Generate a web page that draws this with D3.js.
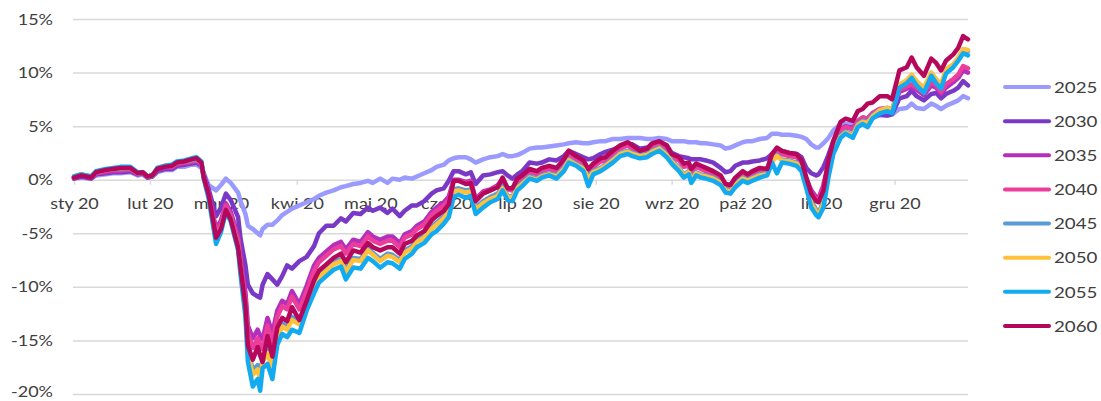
<!DOCTYPE html>
<html>
<head>
<meta charset="utf-8">
<script src="https://cdn.jsdelivr.net/npm/d3@7"></script>
<style>
  body { margin: 0; background: #ffffff; }
  svg { display: block; }
  text { font-family: Lato, "Open Sans", sans-serif; fill: #404040; }
</style>
</head>
<body>
<svg id="chart" width="1101" height="401"></svg>
<script>
// Cumulative return (%) of target-date funds over 2020
const dates = [
  "2020-01-01","2020-01-04","2020-01-08","2020-01-10","2020-01-14","2020-01-17","2020-01-20","2020-01-24","2020-01-27","2020-01-29","2020-01-31",
  "2020-02-02","2020-02-04","2020-02-07","2020-02-10","2020-02-12","2020-02-15","2020-02-18","2020-02-20","2020-02-22","2020-02-23","2020-02-25","2020-02-28",
  "2020-03-01","2020-03-03","2020-03-05","2020-03-08","2020-03-09","2020-03-11","2020-03-12","2020-03-14","2020-03-16","2020-03-17","2020-03-18","2020-03-20","2020-03-22","2020-03-24","2020-03-26","2020-03-28","2020-03-30",
  "2020-04-02","2020-04-05","2020-04-08","2020-04-10","2020-04-13","2020-04-16","2020-04-19","2020-04-21","2020-04-24","2020-04-27","2020-04-30",
  "2020-05-02","2020-05-05","2020-05-08","2020-05-10","2020-05-13","2020-05-15","2020-05-18","2020-05-20","2020-05-23","2020-05-26","2020-05-28","2020-05-31",
  "2020-06-02","2020-06-04","2020-06-06","2020-06-09","2020-06-11","2020-06-13","2020-06-16","2020-06-19","2020-06-22","2020-06-24","2020-06-26","2020-06-28","2020-06-30",
  "2020-07-02","2020-07-05","2020-07-08","2020-07-10","2020-07-13","2020-07-16","2020-07-19","2020-07-21","2020-07-24","2020-07-27","2020-07-29","2020-07-31",
  "2020-08-03","2020-08-05","2020-08-08","2020-08-11","2020-08-14","2020-08-16","2020-08-19","2020-08-22","2020-08-24","2020-08-27","2020-08-30",
  "2020-09-01","2020-09-04","2020-09-06","2020-09-08","2020-09-09","2020-09-11","2020-09-13","2020-09-15","2020-09-18","2020-09-21","2020-09-23","2020-09-25","2020-09-27","2020-09-30",
  "2020-10-02","2020-10-04","2020-10-07","2020-10-10","2020-10-12","2020-10-14","2020-10-16","2020-10-19","2020-10-22","2020-10-24","2020-10-26","2020-10-28","2020-10-30","2020-10-31",
  "2020-11-02","2020-11-04","2020-11-06","2020-11-09","2020-11-11","2020-11-14","2020-11-16","2020-11-18","2020-11-20","2020-11-22","2020-11-25","2020-11-28","2020-11-30",
  "2020-12-03","2020-12-06","2020-12-08","2020-12-10","2020-12-13","2020-12-16","2020-12-18","2020-12-20","2020-12-22","2020-12-25","2020-12-27","2020-12-29","2020-12-31"
];

const s2025 = [
  0.1,0.2,0.1,0.4,0.5,0.6,0.6,0.7,0.4,0.5,0.2,
  0.3,0.7,0.9,0.9,1.2,1.2,1.4,1.4,1.1,0.6,-0.5,-1.0,
  -0.5,0.1,-0.3,-1.2,-2.0,-3.2,-4.3,-4.6,-5.0,-5.2,-4.6,-4.2,-4.2,-3.8,-3.3,-3.0,-2.7,
  -2.4,-2.1,-1.8,-1.5,-1.2,-1.0,-0.7,-0.6,-0.4,-0.3,-0.1,
  -0.3,0.1,-0.3,0.1,0.0,0.2,0.1,0.3,0.6,0.9,1.2,1.4,
  1.8,2.0,2.1,2.1,1.9,1.6,1.9,2.1,2.2,2.4,2.2,2.2,2.3,
  2.5,2.9,3.0,3.0,3.1,3.2,3.3,3.4,3.5,3.4,3.4,3.5,
  3.6,3.6,3.8,3.8,3.9,3.9,3.9,3.8,3.8,3.9,3.8,
  3.6,3.6,3.6,3.5,3.5,3.5,3.4,3.4,3.3,3.2,2.9,3.0,3.2,3.5,
  3.6,3.6,3.8,3.9,4.3,4.3,4.2,4.2,4.1,4.0,3.8,3.3,3.0,3.0,
  3.4,3.9,4.6,5.2,5.2,5.2,5.4,5.5,5.7,5.8,6.0,6.0,6.1,
  6.6,6.7,7.1,6.7,6.6,7.1,6.9,6.6,6.9,7.2,7.4,7.8,7.6
];

const s2030 = [
  0.1,0.3,0.1,0.5,0.6,0.7,0.7,0.8,0.5,0.6,0.2,
  0.3,0.8,1.0,1.0,1.3,1.4,1.5,1.6,1.3,0.5,-0.9,-3.4,
  -2.6,-1.3,-1.9,-3.5,-5.5,-8.0,-9.8,-10.6,-10.9,-11.0,-9.8,-8.8,-9.3,-9.8,-9.0,-8.0,-8.3,
  -7.6,-7.2,-6.2,-5.0,-4.3,-4.3,-3.6,-3.9,-3.1,-3.2,-2.6,
  -2.9,-2.6,-3.1,-2.7,-3.4,-2.9,-2.4,-2.4,-2.0,-1.3,-1.0,-0.8,
  -0.1,0.8,0.8,0.5,0.7,-0.4,0.4,0.5,0.7,0.8,0.4,0.1,0.5,
  0.8,1.6,1.5,1.6,1.9,1.8,2.2,2.7,2.4,2.1,1.9,2.0,
  2.4,2.6,2.8,3.1,3.3,3.3,2.9,3.0,3.2,3.5,3.2,
  2.5,2.2,2.1,2.0,1.9,1.9,1.9,1.8,1.6,1.1,0.7,0.8,1.3,1.6,
  1.6,1.7,1.8,2.0,2.4,2.9,2.7,2.5,2.4,2.1,1.1,0.6,0.4,0.5,
  1.2,2.3,3.6,4.7,4.9,4.9,5.2,5.4,5.5,5.8,6.1,6.0,6.1,
  7.6,7.8,8.3,7.8,7.4,8.0,8.1,7.6,8.0,8.3,8.6,9.2,8.8
];

const s2035 = [
  0.2,0.4,0.2,0.6,0.7,0.8,0.8,0.9,0.5,0.6,0.2,
  0.4,0.9,1.1,1.1,1.4,1.5,1.6,1.7,1.4,0.3,-1.2,-4.6,
  -3.8,-2.2,-3.0,-5.2,-7.2,-10.5,-13.6,-14.8,-14.0,-14.6,-14.9,-12.9,-14.3,-12.2,-11.3,-11.6,-10.4,
  -11.6,-9.9,-8.0,-7.3,-6.7,-6.1,-5.8,-6.5,-5.6,-5.8,-4.9,
  -5.3,-5.6,-5.3,-5.3,-5.9,-5.1,-4.8,-4.3,-3.9,-3.0,-2.6,-2.1,
  -1.6,0.0,0.0,-0.2,-0.1,-1.8,-1.1,-0.9,-0.5,0.1,-0.8,-0.9,-0.1,
  0.2,0.8,0.6,0.9,1.1,0.9,1.7,2.5,2.0,1.6,0.8,1.3,
  1.8,1.9,2.5,3.0,3.3,3.0,2.5,2.7,3.2,3.4,3.0,
  2.2,1.9,1.3,1.4,0.8,1.3,1.1,0.9,0.6,0.2,-0.5,-0.6,0.0,0.6,
  0.3,0.6,0.9,0.8,2.2,2.8,2.5,2.3,2.2,1.6,0.1,-1.0,-1.6,-1.7,
  -0.5,1.6,3.3,4.7,5.0,4.8,5.5,5.8,5.7,6.2,6.6,6.6,6.5,
  8.2,8.5,8.6,8.4,7.9,8.8,8.6,8.0,8.6,9.1,9.5,10.2,10.0
];

const s2040 = [
  0.2,0.4,0.2,0.6,0.8,0.9,0.9,1.0,0.6,0.7,0.3,
  0.4,1.0,1.2,1.2,1.5,1.6,1.7,1.8,1.5,0.3,-1.3,-4.9,
  -4.1,-2.4,-3.3,-5.6,-7.6,-11.2,-14.3,-15.7,-14.8,-15.4,-15.8,-13.6,-15.2,-12.8,-11.8,-12.1,-10.9,
  -12.1,-10.4,-8.5,-7.7,-7.1,-6.5,-6.2,-6.9,-6.0,-6.2,-5.3,
  -5.7,-6.0,-5.7,-5.7,-6.3,-5.4,-5.1,-4.6,-4.2,-3.3,-2.9,-2.4,
  -1.9,-0.1,-0.1,-0.3,-0.2,-1.9,-1.2,-1.0,-0.6,0.0,-0.9,-1.0,-0.2,
  0.1,0.7,0.5,0.8,1.0,0.8,1.6,2.4,1.9,1.5,0.7,1.2,
  1.7,1.8,2.4,2.9,3.2,2.9,2.4,2.6,3.1,3.3,2.9,
  2.1,1.8,1.2,1.3,0.7,1.2,1.0,0.8,0.5,0.1,-0.6,-0.7,-0.1,0.5,
  0.2,0.5,0.8,0.7,2.1,2.7,2.4,2.2,2.1,1.5,-0.1,-1.2,-1.8,-1.9,
  -0.7,1.4,3.2,4.6,4.9,4.7,5.5,5.8,5.7,6.2,6.6,6.7,6.5,
  8.4,8.7,8.9,8.6,8.1,9.1,8.8,8.2,8.9,9.4,9.8,10.6,10.4
];

const s2045 = [
  0.3,0.5,0.3,0.7,0.9,1.0,1.0,1.1,0.6,0.7,0.3,
  0.4,1.0,1.2,1.3,1.6,1.7,1.8,1.9,1.6,0.2,-1.5,-5.5,
  -4.5,-2.8,-3.6,-6.2,-8.3,-12.0,-15.8,-17.8,-17.3,-18.3,-16.6,-15.8,-17.2,-14.4,-13.4,-13.7,-12.8,
  -13.2,-11.7,-9.8,-8.9,-8.3,-7.7,-7.4,-8.4,-7.3,-7.4,-6.4,
  -6.8,-7.4,-6.9,-7.0,-7.5,-6.6,-6.2,-5.6,-5.2,-4.4,-4.0,-3.4,
  -2.8,-0.9,-0.8,-1.0,-0.9,-2.6,-2.0,-1.6,-1.3,-0.6,-1.5,-1.6,-0.7,
  -0.3,0.3,0.1,0.4,0.6,0.4,1.1,1.9,1.5,1.1,0.3,0.8,
  1.1,1.4,1.9,2.5,2.7,2.5,2.3,2.4,2.7,3.0,2.4,
  1.8,1.1,0.5,0.8,0.0,0.7,0.5,0.4,0.2,-0.2,-0.9,-1.0,-0.4,0.2,
  0.0,0.2,0.5,0.6,1.8,2.3,1.9,1.8,1.6,1.1,-0.4,-2.0,-2.8,-3.1,
  -2.0,0.7,2.7,4.1,4.5,4.2,5.2,5.5,5.4,6.0,6.5,6.7,6.5,
  8.8,9.2,9.7,9.1,8.5,9.9,9.3,8.8,10.1,10.6,11.2,11.9,12.0
];

const s2050 = [
  0.3,0.5,0.3,0.7,0.9,1.0,1.1,1.1,0.6,0.7,0.3,
  0.4,1.1,1.3,1.3,1.6,1.7,1.9,2.0,1.6,0.1,-1.6,-5.6,
  -4.6,-2.9,-3.7,-6.3,-8.5,-12.3,-16.2,-18.2,-17.7,-18.8,-17.0,-16.2,-17.6,-14.7,-13.7,-14.0,-13.1,
  -13.5,-11.9,-10.1,-9.1,-8.5,-7.9,-7.6,-8.6,-7.5,-7.6,-6.6,
  -7.0,-7.6,-7.1,-7.2,-7.7,-6.8,-6.4,-5.8,-5.4,-4.6,-4.2,-3.6,
  -3.0,-1.1,-1.0,-1.2,-1.1,-2.8,-2.2,-1.8,-1.5,-0.8,-1.6,-1.7,-0.8,
  -0.4,0.2,0.0,0.3,0.5,0.3,1.0,1.8,1.4,1.0,0.1,0.7,
  1.0,1.3,1.8,2.4,2.6,2.4,2.2,2.3,2.6,2.9,2.3,
  1.7,1.0,0.4,0.7,-0.1,0.6,0.4,0.3,0.1,-0.3,-1.0,-1.1,-0.5,0.1,
  -0.1,0.1,0.4,0.5,1.7,2.2,1.8,1.7,1.5,1.0,-0.5,-2.2,-3.0,-3.3,
  -2.2,0.5,2.5,4.0,4.4,4.1,5.1,5.4,5.3,5.9,6.5,6.7,6.5,
  8.9,9.3,9.8,9.2,8.6,10.0,9.4,8.9,10.3,10.8,11.4,12.2,12.1
];

const s2055 = [
  0.3,0.5,0.3,0.8,1.0,1.1,1.2,1.2,0.7,0.7,0.3,
  0.4,1.1,1.3,1.4,1.7,1.8,2.0,2.1,1.7,0.1,-1.8,-6.0,
  -4.9,-3.0,-3.9,-6.6,-8.9,-12.8,-17.0,-19.3,-18.6,-19.7,-17.6,-17.2,-18.6,-15.4,-14.4,-14.7,-14.0,
  -14.3,-12.2,-10.6,-9.6,-9.0,-8.4,-8.1,-9.3,-8.2,-8.3,-7.3,
  -7.6,-8.2,-7.7,-7.8,-8.3,-7.4,-6.9,-6.3,-5.9,-5.1,-4.8,-4.1,
  -3.5,-1.6,-1.4,-1.7,-1.5,-3.2,-2.6,-2.1,-1.8,-1.0,-1.9,-2.0,-1.0,
  -0.6,0.1,-0.1,0.2,0.4,0.1,0.8,1.6,1.3,0.8,-0.6,0.5,
  0.8,1.1,1.6,2.2,2.4,2.2,2.0,2.1,2.4,2.7,2.1,
  1.5,0.8,0.2,0.5,-0.3,0.4,0.2,0.1,-0.1,-0.5,-1.2,-1.3,-0.7,-0.1,
  -0.3,-0.1,0.2,0.4,1.6,0.6,1.6,1.5,1.3,0.8,-0.8,-2.6,-3.3,-3.5,
  -2.6,0.2,2.4,3.9,4.3,3.9,4.9,5.2,4.9,5.7,6.2,6.4,6.2,
  8.6,9.0,9.5,8.8,8.1,9.7,9.0,8.5,9.9,10.5,11.1,11.8,11.6
];

const s2060 = [
  0.2,0.4,0.2,0.7,0.9,1.0,1.1,1.1,0.6,0.7,0.3,
  0.4,1.0,1.2,1.3,1.6,1.7,1.9,2.0,1.6,0.2,-1.4,-5.4,
  -4.6,-2.8,-3.7,-6.3,-8.2,-11.8,-15.5,-16.8,-15.6,-16.4,-17.0,-14.6,-16.5,-13.8,-12.9,-13.2,-11.9,
  -13.1,-11.3,-9.4,-8.5,-7.9,-7.3,-6.9,-7.7,-6.6,-6.8,-5.9,
  -6.3,-6.6,-6.3,-6.3,-6.9,-6.0,-5.7,-5.2,-4.8,-3.8,-3.4,-2.9,
  -2.3,-0.1,-0.1,-0.4,-0.3,-2.0,-1.3,-1.0,-0.7,0.2,-0.8,-0.8,0.1,
  0.4,1.0,0.8,1.1,1.3,1.1,1.9,2.7,2.2,1.8,1.0,1.5,
  2.0,2.1,2.7,3.2,3.5,3.2,2.7,2.9,3.4,3.6,3.2,
  2.4,2.1,1.5,1.6,1.0,1.5,1.3,1.1,0.8,0.4,-0.4,-0.5,0.2,0.8,
  0.5,0.8,1.1,1.0,2.4,3.0,2.7,2.5,2.4,1.8,0.2,-1.3,-2.0,-2.1,
  -1.0,1.8,3.6,5.4,5.7,5.5,6.4,6.6,7.1,7.2,7.8,7.8,7.5,
  10.2,10.5,11.4,10.5,9.7,11.3,10.9,10.2,11.1,11.7,12.3,13.4,13.1
];

const seriesNames = ["2025", "2030", "2035", "2040", "2045", "2050", "2055", "2060"];
const seriesValues = [s2025, s2030, s2035, s2040, s2045, s2050, s2055, s2060];
const seriesColors = ["#9b9bff", "#7a38c6", "#b42fba", "#ec3d9c", "#5b9bd5", "#ffc13b", "#12aaf0", "#b5075b"];

const monthLabels = ["sty 20", "lut 20", "mar 20", "kwi 20", "maj 20", "cze 20",
                     "lip 20", "sie 20", "wrz 20", "paź 20", "lis 20", "gru 20"];
const yTicks = [15, 10, 5, 0, -5, -10, -15, -20];

const parseDate = d3.timeParse("%Y-%m-%d");
const parsedDates = dates.map(parseDate);

const plotLeft = 73, plotRight = 968, plotTop = 19, plotBottom = 394;
const textStretch = 1.2;

const svg = d3.select("#chart");

const x = d3.scaleTime()
  .domain([new Date(2020, 0, 1), new Date(2020, 11, 31)])
  .range([74, 968]);

const y = d3.scaleLinear()
  .domain([-20, 15])
  .range([plotBottom, plotTop]);

// Horizontal gridlines with percentage labels
const yAxis = d3.axisLeft(y)
  .tickValues(yTicks)
  .tickSize(-(plotRight - plotLeft))
  .tickPadding(20)
  .tickFormat(d => d + "%");

const gy = svg.append("g")
  .attr("transform", `translate(${plotLeft},0)`)
  .call(yAxis);
gy.select(".domain").remove();
gy.selectAll(".tick line").attr("stroke", "#d9d9d9").attr("stroke-width", 1.5);
gy.selectAll(".tick text")
  .attr("x", null)
  // the lowest label sits on the bottom edge, so lift it slightly
  .attr("dy", d => d === yTicks[yTicks.length - 1] ? "0.18em" : "0.34em")
  .attr("transform", `translate(-20,0) scale(${textStretch},1)`)
  .attr("font-size", 15)
  .attr("fill", "#404040");

// Month axis along the zero line
const xAxis = d3.axisBottom(x)
  .ticks(d3.timeMonth.every(1))
  .tickSize(5)
  .tickPadding(14)
  .tickFormat(d => monthLabels[d.getMonth()]);

const gx = svg.append("g")
  .attr("transform", `translate(0,${y(0)})`)
  .call(xAxis);
gx.select(".domain").remove();
gx.selectAll(".tick line").attr("stroke", "#d9d9d9").attr("stroke-width", 1.5);
gx.selectAll(".tick text")
  .attr("y", null)
  .attr("dy", null)
  .attr("transform", `translate(0,29.5) scale(${textStretch},1)`)
  .attr("font-size", 15)
  .attr("fill", "#404040");

// Series lines
const line = d3.line()
  .x((d, i) => x(parsedDates[i]))
  .y(d => y(d));

svg.append("g")
  .selectAll("path")
  .data(seriesValues)
  .join("path")
  .attr("d", line)
  .attr("fill", "none")
  .attr("stroke", (d, i) => seriesColors[i])
  .attr("stroke-width", 4.5)
  .attr("stroke-linejoin", "round")
  .attr("stroke-linecap", "round");

// Legend
const legend = svg.append("g");
const legendRow = d3.scaleLinear().domain([0, 7]).range([87, 326]);
const items = legend.selectAll("g")
  .data(seriesNames)
  .join("g")
  .attr("transform", (d, i) => `translate(0,${legendRow(i)})`);
items.append("line")
  .attr("x1", 1005).attr("x2", 1049)
  .attr("y1", 0).attr("y2", 0)
  .attr("stroke", (d, i) => seriesColors[i])
  .attr("stroke-width", 4)
  .attr("stroke-linecap", "round");
items.append("text")
  .attr("transform", `translate(1054,0) scale(1.17,1)`)
  .attr("dy", "0.36em")
  .attr("font-size", 16)
  .attr("fill", "#404040")
  .text(d => d);
</script>
</body>
</html>
